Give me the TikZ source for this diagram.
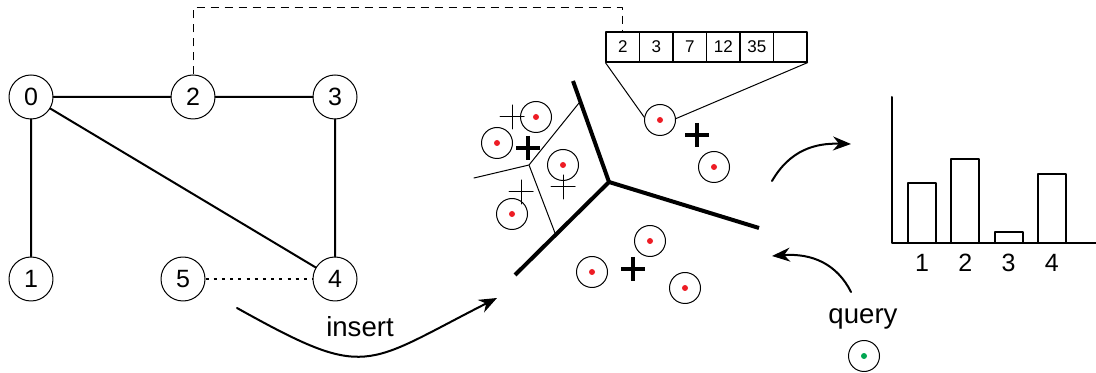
\documentclass[tikz,border=0pt]{standalone}
\usepackage{fontspec}
\setmainfont{Liberation Sans}
\usetikzlibrary{arrows.meta}
\definecolor{dotred}{RGB}{237,28,36}
\definecolor{dotgreen}{RGB}{0,166,81}
\begin{document}
\begin{tikzpicture}[x=0.5pt,y=-0.5pt,line join=round,line cap=round,>={Stealth[length=9pt,width=7pt]}]
	\tikzset{every node/.style={font=\fontsize{12.5}{14}\selectfont},
		vertex/.style={draw,circle,inner sep=0pt,minimum size=22pt,line width=0.5pt},
		pt/.style={draw,circle,inner sep=0pt,minimum size=15.5pt,line width=0.5pt,
			path picture={\fill[#1] (path picture bounding box.center) circle (1.5pt);}},
		pt/.default=dotred,
		cell/.style={draw,rectangle,inner sep=0pt,minimum width=16.75pt,minimum height=15pt,
			line width=0.6pt,font=\fontsize{8.5}{10}\selectfont},
		lbl/.style={anchor=base,font=\fontsize{13.8}{16}\selectfont}}
	\useasboundingbox (0,0) rectangle (1096,373);
	% graph
	\node[vertex] (n0) at (31,97) {0};
	\node[vertex] (n2) at (193,97) {2};
	\node[vertex] (n3) at (335,97) {3};
	\node[vertex] (n1) at (31,279) {1};
	\node[vertex] (n5) at (183,279) {5};
	\node[vertex] (n4) at (335,279) {4};
	\draw[line width=1pt] (n1)--(n0)--(n2)--(n3)--(n4)--(n0);
	\draw[line width=1pt,dash pattern=on 1.5pt off 2.6pt,line cap=butt] (n5)--(n4);
	% array of one point
	\foreach \v [count=\i] in {2,3,7,12,35,{}}
	\node[cell] (c\i) at ({606+33.5*(\i-0.5)},47) {\v};
	\draw[line width=0.5pt,dash pattern=on 4pt off 3pt,line cap=butt] (n2.north) -- (n2.north |- 0,8) -| (c1.north);
	\node[pt] (pa) at (660,120) {};
	\draw[line width=0.5pt] (c1.south west) -- (pa.170) (c6.south east) -- (pa.5);
	% voronoi cells
	\coordinate (v0) at (609,182);
	\coordinate (v1) at (529,165);
	\draw[line width=2pt,line cap=butt] (573,81) -- (v0) -- (759,228) (v0) -- (515,275);
	\draw[line width=0.5pt] (579,103) -- (v1) -- (474,178) (v1) -- (555,233);
	\foreach \x/\y [count=\i] in {536/117,497/143,563/165,512/214,714/167,650/241,592/272,685/288}
	\node[pt] (p\i) at (\x,\y) {};
	\foreach \x/\y in {528/148,697/135,633/269}
	\draw[line width=2pt,line cap=butt] (\x,\y) ++(-12,0) -- ++(24,0) (\x,\y) ++(0,-12) -- ++(0,24);
	\foreach \x/\y in {512/117,521/192,563/187}
	\draw[line width=0.5pt] (\x,\y) ++(-12,0) -- ++(24,0) (\x,\y) ++(0,-12) -- ++(0,24);
	% arrows
	\coordinate (ins-a) at (237,308);
	\coordinate (ins-b) at (497,298);
	\draw[->,line width=1pt] (ins-a) .. controls (368,381) and (363,366) .. (ins-b);
	\node[lbl] (insert) at (360,336) {insert};
	\coordinate (out-a) at (772,181);
	\coordinate (out-b) at (851,144);
	\draw[->,line width=1pt] (out-a) .. controls (790,150) and (815,143) .. (out-b);
	\coordinate (qry-a) at (851,292);
	\coordinate (qry-b) at (772,256);
	\draw[->,line width=1pt] (qry-a) .. controls (837,264) and (812,253) .. (qry-b);
	\node[lbl] (query) at (863,323) {query};
	\node[pt=dotgreen] (q) at (864,356) {};
	% histogram
	\draw[line width=1pt] (892,97) -- (892,243) -- (1096,243);
	\foreach \h [count=\i] in {183,159,232,174} {
		\draw[line width=1pt] ({908+43.3*(\i-1)},243) rectangle ++(28,\h-243);
		\node (b\i) at ({922+43.3*(\i-1)},263) {\i};
	}
\end{tikzpicture}
\end{document}
